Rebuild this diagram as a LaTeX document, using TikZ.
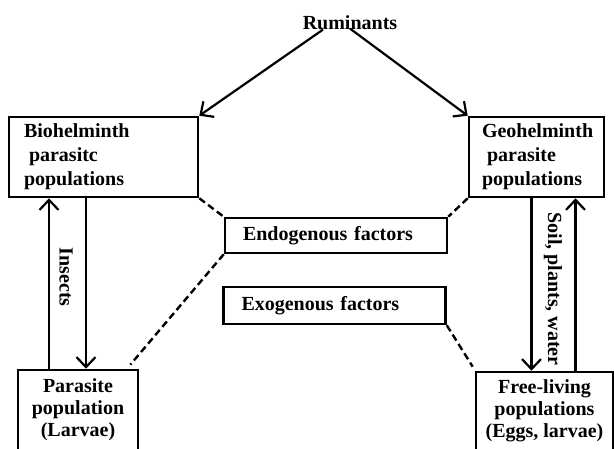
\documentclass[tikz,border=0pt]{standalone}
\usepackage{fontspec}
\setmainfont{Liberation Serif}
\usetikzlibrary{arrows.meta, positioning, calc}

\tikzset{
  txt/.style={font=\bfseries\fontsize{20}{22}\selectfont},
  factorbox/.style={draw, line width=2.6pt, txt, inner xsep=18pt, inner ysep=0pt, align=left},
  popbox/.style={draw, line width=2.6pt, txt, inner sep=0pt},
  flow/.style={line width=2.2pt, -{Straight Barb[length=10pt, width=19pt, line width=2.2pt]}},
  link/.style={line width=2.4pt, dash pattern=on 7pt off 4pt}
}

\begin{document}
\begin{tikzpicture}[x=1pt, y=-1pt]
  \useasboundingbox (0,0) rectangle (614,448);
  \clip (0,0) rectangle (614,448);

  % Hosts
  \node[txt] (rum) at (350,23) {Ruminants};

  % Parasite populations
  \node[popbox, minimum width=189pt, minimum height=80pt, text width=159pt, align=left] (bio) at (103.5,157)
    {Biohelminth\\[2pt]\hspace{5pt}parasitc\\[2pt]populations};
  \node[popbox, minimum width=135pt, minimum height=80pt, text width=109pt, align=left] (geo) at (536.5,157)
    {Geohelminth\\[2pt]\hspace{5pt}parasite\\[2pt]populations};
  \node[popbox, minimum width=120pt, minimum height=80pt, align=center] (par) at (78,410)
    {Parasite\\population\\(Larvae)};
  \node[popbox, minimum width=137pt, minimum height=78pt, align=center] (free) at (544.5,411)
    {Free-living\\populations\\(Eggs, larvae)};

  % Factors
  \node[factorbox, minimum height=35pt, text width=186pt] (endo) at (336,235.5) {Endogenous factors};
  \node[factorbox, minimum height=37pt, text width=186pt] (exo) at (334.5,305.5) {Exogenous factors};

  % Ruminants to populations
  \draw[flow] ($(rum.south)+(-27,-4)$) -- (bio.north east);
  \draw[flow] ($(rum.south)+(0,-5)$) -- (geo.north west);

  % Biohelminth cycle
  \draw[flow] ([xshift=-29pt]par.north) -- ([xshift=-29pt]par.north |- bio.south);
  \draw[flow] ([xshift=8pt]par.north |- bio.south) -- ([xshift=8pt]par.north);
  \node[txt, rotate=-90] (insects) at (66,277) {Insects};

  % Geohelminth cycle
  \draw[flow] ([xshift=-13pt]free.north |- geo.south) -- ([xshift=-13pt]free.north);
  \draw[flow] ([xshift=31pt]free.north) -- ([xshift=31pt]free.north |- geo.south);
  \node[txt, rotate=-90] (soil) at (553,289) {Soil, plants, water};

  % Factor links
  \draw[link] (bio.south east) -- (endo.north west);
  \draw[link] (geo.south west) -- (endo.north east);
  \draw[link] (endo.south west) -- ($(par.north east)+(-9,-4)$);
  \draw[link] (exo.south east) -- ($(free.north west)+(-2,-4)$);
\end{tikzpicture}
\end{document}
